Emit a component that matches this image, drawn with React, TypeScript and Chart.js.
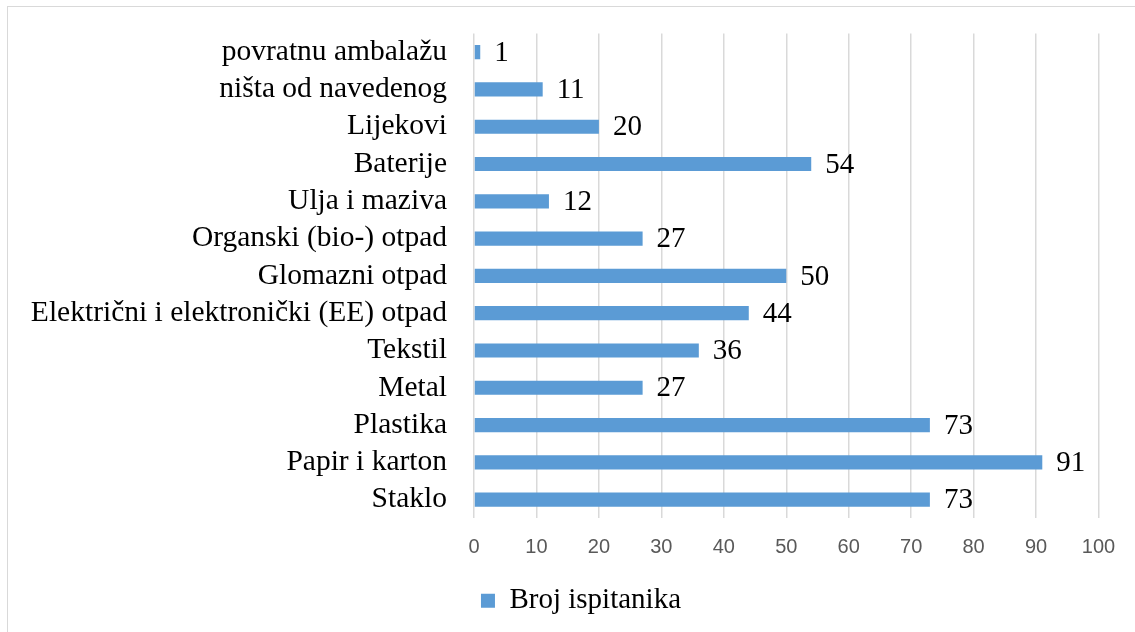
import React, { useEffect, useRef } from "react";
import { Chart, registerables } from "chart.js";

Chart.register(...registerables);

const categories = [
  "povratnu ambalažu",
  "ništa od navedenog",
  "Lijekovi",
  "Baterije",
  "Ulja i maziva",
  "Organski (bio-) otpad",
  "Glomazni otpad",
  "Električni i elektronički (EE) otpad",
  "Tekstil",
  "Metal",
  "Plastika",
  "Papir i karton",
  "Staklo",
];
const values = [1, 11, 20, 54, 12, 27, 50, 44, 36, 27, 73, 91, 73];
const seriesName = "Broj ispitanika";
const xTicks = [0, 10, 20, 30, 40, 50, 60, 70, 80, 90, 100];

const SERIF = "'Liberation Serif', 'Times New Roman', serif";
const SANS = "'Liberation Sans', Arial, sans-serif";

const valueLabels = {
  id: "valueLabels",
  afterDatasetsDraw(chart: any) {
    const ctx = chart.ctx;
    const meta = chart.getDatasetMeta(0);
    ctx.save();
    ctx.font = `29px ${SERIF}`;
    ctx.fillStyle = "#000";
    ctx.textAlign = "left";
    ctx.textBaseline = "middle";
    meta.data.forEach((bar: any, i: number) => {
      ctx.fillText(String(chart.data.datasets[0].data[i]), bar.x + 14, bar.y + 1);
    });
    ctx.restore();
  },
};

export default function App() {
  const ref = useRef<HTMLCanvasElement>(null);
  useEffect(() => {
    if (!ref.current) return;
    const chart = new Chart(ref.current, {
      type: "bar",
      data: {
        labels: categories,
        datasets: [
          {
            label: seriesName,
            data: values,
            backgroundColor: "#5B9BD5",
            borderWidth: 0,
            categoryPercentage: 1,
            barPercentage: 0.38,
          },
        ],
      },
      options: {
        indexAxis: "y",
        animation: false,
        responsive: false,
        layout: { padding: { left: 0, right: 8, top: 33.5, bottom: 6.7 } },
        plugins: {
          tooltip: { enabled: false },
          legend: {
            position: "bottom",
            labels: {
              boxWidth: 14,
              boxHeight: 14,
              padding: 6,
              color: "#000",
              font: { family: SERIF, size: 29 },
            },
          },
        },
        scales: {
          x: {
            min: 0,
            max: 100,
            afterBuildTicks: (s: any) => {
              s.ticks = xTicks.map((v) => ({ value: v }));
            },
            afterFit: (s: any) => {
              s.height = 62;
              s.paddingRight = 71.5;
            },
            grid: { color: "#d9d9d9", lineWidth: 1.5, drawTicks: false },
            border: { display: false },
            ticks: {
              color: "#595959",
              padding: 17,
              maxRotation: 0,
              font: { family: SANS, size: 20 },
            },
          },
          y: {
            afterFit: (s: any) => {
              s.width = 474;
              s.paddingTop = 0;
              s.paddingBottom = 0;
            },
            grid: { display: false, drawTicks: false },
            border: { display: false },
            ticks: {
              color: "#000",
              padding: 27,
              autoSkip: false,
              font: { family: SERIF, size: 29.5 },
            },
          },
        },
      },
      plugins: [valueLabels],
    });
    return () => chart.destroy();
  }, []);
  return (
    <div style={{ position: "fixed", left: 0, top: 0, width: 1135, height: 632, background: "#fff", overflow: "hidden" }}>
      <div
        style={{
          position: "absolute",
          left: 7,
          top: 6,
          width: 1140,
          height: 640,
          border: "1.5px solid #d9d9d9",
          boxSizing: "border-box",
        }}
      />
      <canvas ref={ref} width={1170} height={632} style={{ position: "absolute", left: 0, top: 0 }} />
    </div>
  );
}
